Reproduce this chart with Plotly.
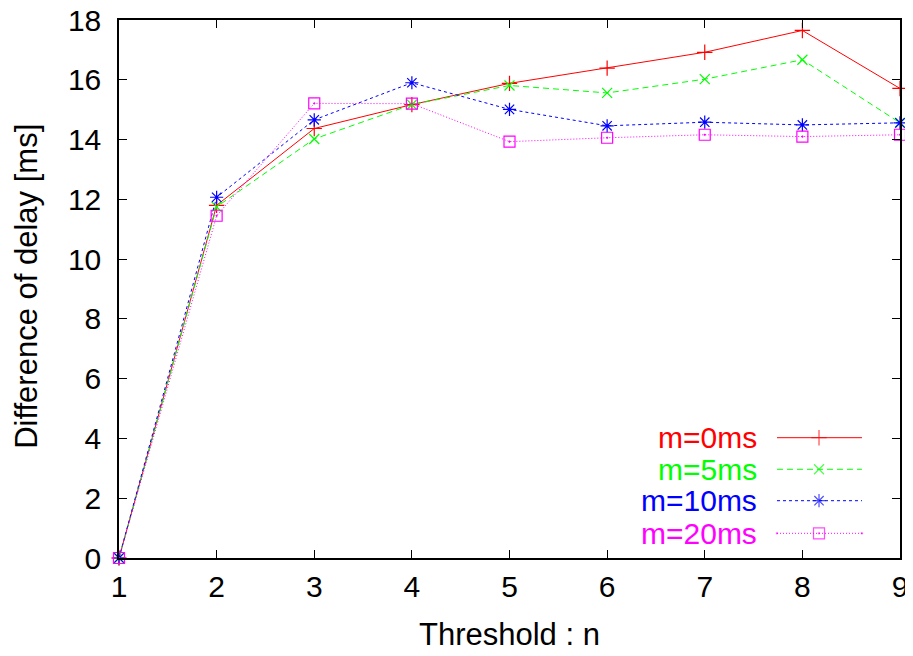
import plotly.graph_objects as go

# ---- data ----
thresholds = [1, 2, 3, 4, 5, 6, 7, 8, 9]
m0_ms = [0, 11.80, 14.37, 15.17, 15.88, 16.39, 16.92, 17.65, 15.71]
m5_ms = [0, 11.75, 14.02, 15.17, 15.81, 15.56, 16.02, 16.67, 14.56]
m10_ms = [0, 12.07, 14.66, 15.90, 15.01, 14.46, 14.58, 14.49, 14.56]
m20_ms = [0, 11.45, 15.21, 15.20, 13.93, 14.06, 14.16, 14.10, 14.16]
series_names = ["m=0ms", "m=5ms", "m=10ms", "m=20ms"]
x_ticks = [1, 2, 3, 4, 5, 6, 7, 8, 9]
y_ticks = [0, 2, 4, 6, 8, 10, 12, 14, 16, 18]
x_title = "Threshold : n"
y_title = "Difference of delay [ms]"

FONT = "Liberation Sans, Arial, sans-serif"
styles = [
    dict(color="#ff0000", dash="solid", symbol="cross-thin-open", size=11),
    dict(color="#00ff00", dash="6px,4px", symbol="x-thin-open", size=10),
    dict(color="#0000ff", dash="3px,3px", symbol="asterisk-open", size=11),
    dict(color="#ff00ff", dash="1px,2px", symbol="square-open-dot", size=11),
]
series = [m0_ms, m5_ms, m10_ms, m20_ms]

fig = go.Figure()
for name, vals, st in zip(series_names, series, styles):
    fig.add_trace(go.Scatter(
        x=thresholds, y=vals, mode="lines+markers", name=name,
        line=dict(color=st["color"], width=1, dash=st["dash"]),
        marker=dict(symbol=st["symbol"], size=st["size"], color=st["color"],
                    line=dict(color=st["color"], width=1.2)),
        cliponaxis=False, showlegend=False,
    ))

# ---- gnuplot-style key (inside, bottom right) ----
key_text_x = 0.8195
key_line_x = [0.8425, 0.8963, 0.9513]
key_rows_y = [0.2236, 0.1649, 0.1065, 0.0459]
for name, st, ky in zip(series_names, styles, key_rows_y):
    fig.add_annotation(x=key_text_x, y=ky, xref="paper", yref="paper",
                       text=name, showarrow=False, xanchor="right", yanchor="middle",
                       font=dict(family=FONT, size=30, color=st["color"]))
    fig.add_trace(go.Scatter(
        x=key_line_x, y=[ky] * 3, xaxis="x2", yaxis="y2", mode="lines+markers",
        line=dict(color=st["color"], width=1, dash=st["dash"]),
        marker=dict(symbol=st["symbol"], size=[0, st["size"], 0], color=st["color"],
                    line=dict(color=st["color"], width=1.2)),
        showlegend=False, hoverinfo="skip", cliponaxis=False,
    ))

# axis titles placed as annotations for exact positioning
fig.add_annotation(x=0.5, y=-0.1785, xref="paper", yref="paper", text=x_title,
                   showarrow=False, xanchor="center", yanchor="bottom",
                   font=dict(family=FONT, size=31, color="black"))
fig.add_annotation(x=-0.118, y=0.5056, xref="paper", yref="paper", text=y_title,
                   showarrow=False, xanchor="center", yanchor="middle", textangle=-90,
                   font=dict(family=FONT, size=31, color="black"))

axis_common = dict(
    showline=True, linecolor="black", linewidth=1.5, mirror="ticks",
    ticks="inside", ticklen=8, tickwidth=1.2, tickcolor="black",
    showgrid=False, zeroline=False, automargin=False,
    ticklabeloverflow="allow",
    tickfont=dict(family=FONT, size=30, color="black"),
)

# page body has an 8px margin, so the figure is sized to fit inside the window
fig.update_layout(
    width=905, height=640,
    margin=dict(l=111, r=13, t=12, b=90),
    plot_bgcolor="white", paper_bgcolor="white",
    font=dict(family=FONT, color="black"),
    xaxis=dict(range=[1, 9], tickvals=x_ticks, ticklabelstandoff=1, **axis_common),
    yaxis=dict(range=[0, 18], tickvals=y_ticks, ticklabelstandoff=10, **axis_common),
    xaxis2=dict(range=[0, 1], overlaying="x", visible=False, fixedrange=True),
    yaxis2=dict(range=[0, 1], overlaying="y", visible=False, fixedrange=True),
    showlegend=False,
)

fig.write_html("out.html")
